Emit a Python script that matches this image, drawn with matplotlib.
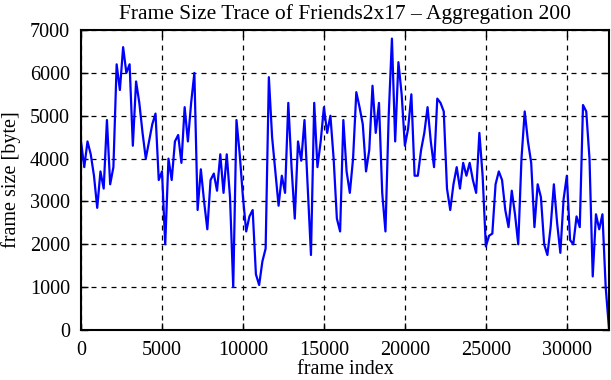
import matplotlib
matplotlib.use("Agg")
import matplotlib.pyplot as plt

# one value per 200 frames (aggregation 200)
step = 200
frame_size = [
	4400, 3800, 4400, 4100, 3600, 2850, 3700, 3300, 4900, 3400,
	3800, 6200, 5600, 6600, 6000, 6200, 4300, 5800, 5300, 4600,
	4000, 4400, 4800, 5050, 3500, 3700, 2000, 4000, 3500, 4400,
	4550, 3900, 5200, 4400, 5300, 6000, 2800, 3750, 3000, 2350,
	3500, 3650, 3250, 4100, 3200, 4100, 3100, 1000, 4900, 4100,
	3100, 2300, 2650, 2800, 1300, 1050, 1600, 1900, 5900, 4500,
	3700, 2900, 3600, 3200, 5300, 3800, 2600, 4400, 3950, 4900,
	3300, 1750, 5300, 3800, 4400, 5200, 4600, 5000, 4000, 2600,
	2300, 4900, 3700, 3200, 4000, 5550, 5200, 4800, 3700, 4200,
	5700, 4600, 5300, 3200, 2300, 5000, 6800, 4400, 6250, 5500,
	4300, 4700, 5500, 3600, 3600, 4200, 4600, 5200, 4400, 3800,
	5400, 5300, 5100, 3300, 2800, 3400, 3800, 3300, 3900, 3600,
	3900, 3500, 3200, 4600, 3600, 1950, 2200, 2250, 3400, 3700,
	3500, 2800, 2400, 3250, 2700, 2000, 4000, 5100, 4400, 3900,
	2400, 3400, 3100, 2000, 1750, 2400, 3400, 2500, 1800, 3050,
	3600, 2100, 2000, 2650, 2400, 5250, 5100, 4000, 1250, 2700,
	2350, 2700, 1000, 50,
]
frames = [i * step for i in range(len(frame_size))]

x_ticks = [0, 5000, 10000, 15000, 20000, 25000, 30000]
y_ticks = [0, 1000, 2000, 3000, 4000, 5000, 6000, 7000]


def main():
	plt.rcParams['font.family'] = ['Liberation Serif', 'DejaVu Serif']
	fig = plt.figure(figsize=(6.11, 3.8), dpi=100)
	ax = fig.add_axes([0.1326, 0.1316, 0.864, 0.7894])

	ax.plot(frames, frame_size, color='#0000ff', linewidth=1.6)

	ax.set_xlim(0, 32600)
	ax.set_ylim(0, 7000)
	ax.set_xticks(x_ticks)
	ax.set_yticks(y_ticks)
	ax.grid(True, color='black', linestyle=(0, (4, 4)), linewidth=0.9)
	ax.tick_params(direction='in', top=True, right=True, length=5, width=1,
				   labelsize=14.5)
	ax.tick_params(axis='x', pad=8)
	ax.tick_params(axis='y', pad=8)
	for s in ax.spines.values():
		s.set_linewidth(1.5)

	ax.set_title('Frame Size Trace of Friends2x17 \u2013 Aggregation 200', fontsize=15.5, pad=8)
	ax.set_xlabel('frame index', fontsize=14.5, labelpad=0)
	ax.set_ylabel('frame size [byte]', fontsize=14.5, labelpad=6)

	fig.savefig('out.png', dpi=100)


if __name__ == "__main__":
	main()
